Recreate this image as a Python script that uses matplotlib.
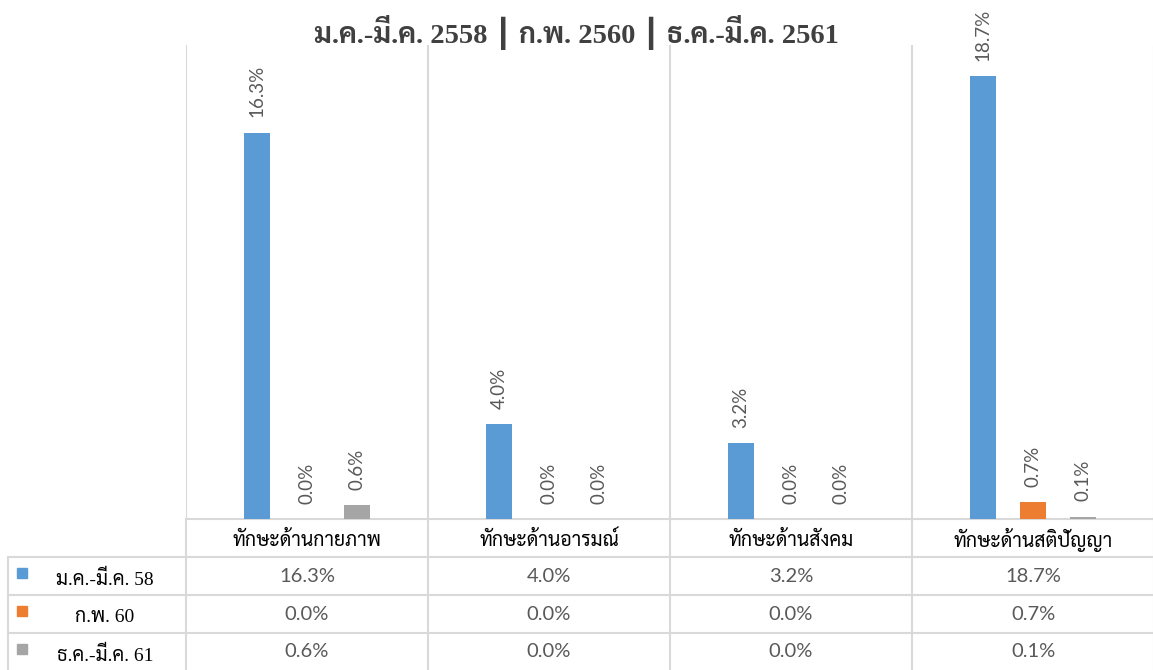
import matplotlib
matplotlib.use("Agg")
import matplotlib.pyplot as plt
from matplotlib.lines import Line2D
from matplotlib.patches import Rectangle

# ---- data ----
categories = ['ทักษะด้านกายภาพ', 'ทักษะด้านอารมณ์', 'ทักษะด้านสังคม', 'ทักษะด้านสติปัญญา']
series_names = ['ม.ค.-มี.ค. 58', 'ก.พ. 60', 'ธ.ค.-มี.ค. 61']
vals_58 = [16.3, 4.0, 3.2, 18.7]
vals_60 = [0.0, 0.0, 0.0, 0.7]
vals_61 = [0.6, 0.0, 0.0, 0.1]
all_vals = [vals_58, vals_60, vals_61]
colors = ['#5B9BD5', '#ED7D31', '#A5A5A5']
title = 'ม.ค.-มี.ค. 2558 ┃ ก.พ. 2560 ┃ ธ.ค.-มี.ค. 2561'

thai_serif = ['Liberation Serif', 'Sarabun', 'DejaVu Sans']
thai_sans = ['Sarabun', 'DejaVu Sans']
num_font = ['Lato', 'DejaVu Sans']
grid_c = '#D9D9D9'
txt_gray = '#595959'

W, H = 1153, 670
fig = plt.figure(figsize=(W / 100, H / 100), dpi=100)

# plot area in pixels
left, right, top, base = 186, 1154, 45, 519
ax = fig.add_axes([left / W, 1 - base / H, (right - left) / W, (base - top) / H])
n = len(categories)
step = 0.2066
bw = 0.107
for i, (vals, c) in enumerate(zip(all_vals, colors)):
    xs = [k + (i - 1) * step for k in range(n)]
    ax.bar(xs, vals, width=bw, color=c, zorder=3)
    for x, v in zip(xs, vals):
        ax.annotate(f'{v:.1f}%', (x, v), xytext=(0, 11), textcoords='offset points',
                    rotation=90, ha='center', va='bottom', fontsize=13.5,
                    family=num_font, color=txt_gray)
ax.set_xlim(-0.5, n - 0.5)
ax.set_ylim(0, 20)
ax.set_xticks([k - 0.5 for k in range(n + 1)])
ax.set_xticklabels([])
ax.set_yticks([])
ax.tick_params(length=0)
ax.grid(axis='x', color=grid_c, lw=1.5, zorder=0)
for s in ['top', 'right', 'left']:
    ax.spines[s].set_visible(False)
ax.spines['bottom'].set_color(grid_c)
ax.spines['bottom'].set_linewidth(1.5)

fig.text(0.5, 1 - 33 / H, title, ha='center', va='center', fontsize=20.5,
         fontweight='bold', family=thai_serif, color='#404040')

# ---- data table below the plot ----
def px(x, y):
    return x / W, 1 - y / H

col_w = (right - left) / n
rows = [557, 595, 633, 670]
tab_left = 8
for y in rows[:-1]:
    fig.add_artist(Line2D([tab_left / W, 1], [1 - y / H] * 2, color=grid_c, lw=1.5))
fig.add_artist(Line2D([tab_left / W] * 2, [1 - rows[0] / H, 0], color=grid_c, lw=1.5))
for k in range(n + 1):
    x = (left + k * col_w) / W
    fig.add_artist(Line2D([x, x], [1 - base / H, 0], color=grid_c, lw=1.5))

for k, cat in enumerate(categories):
    cx = left + (k + 0.5) * col_w
    fig.text(*px(cx, 540), cat, ha='center', va='center', fontsize=14,
             family=thai_sans, color='black')
    for r, vals in enumerate(all_vals):
        cy = (rows[r] + rows[r + 1]) / 2
        fig.text(*px(cx, cy), f'{vals[k]:.1f}%', ha='center', va='center',
                 fontsize=14.5, family=num_font, color=txt_gray)

for r, (name, c) in enumerate(zip(series_names, colors)):
    y0 = rows[r]
    fig.add_artist(Rectangle(px(17, y0 + 21), 10 / W, 10 / H, color=c))
    fig.text(*px(105, y0 + 22), name, ha='center', va='center', fontsize=14,
             family=thai_serif, color='black')

fig.savefig('out.png', dpi=100)
